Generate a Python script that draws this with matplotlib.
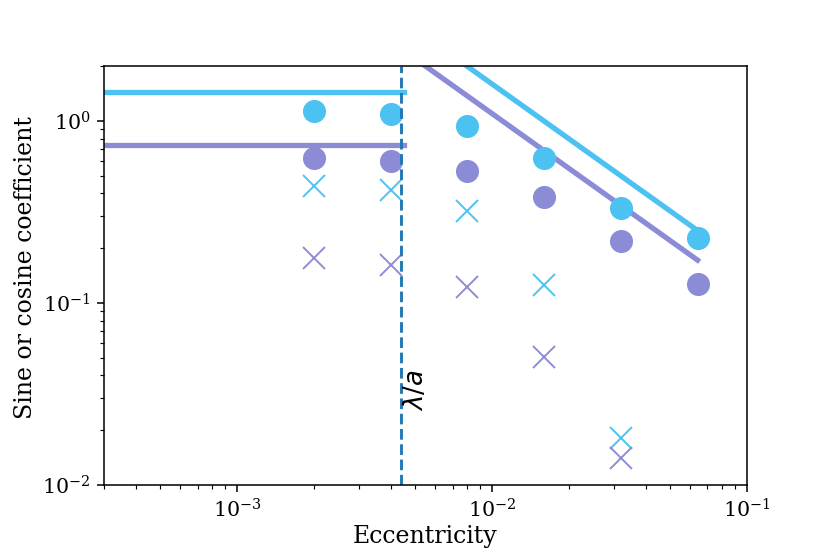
import matplotlib
matplotlib.use("Agg")
import matplotlib.pyplot as plt

plt.rcParams['font.family'] = 'serif'
plt.rcParams['font.serif'] = ['DejaVu Serif']

cyan = "#4bc2f1"
purple = "#8c8cd6"

ecc = [0.002, 0.004, 0.008, 0.016, 0.032, 0.064]
cyan_circles = [1.14, 1.10, 0.94, 0.63, 0.333, 0.228]
purple_circles = [0.63, 0.60, 0.53, 0.38, 0.22, 0.127]
ecc_x = [0.002, 0.004, 0.008, 0.016, 0.032]
cyan_crosses = [0.44, 0.417, 0.32, 0.125, 0.018]
purple_crosses = [0.177, 0.162, 0.123, 0.0507, 0.014]

lam_a = 4.4e-3
flat_x = [1e-4, 4.5e-3]
cyan_flat = [1.44, 1.44]
purple_flat = [0.735, 0.735]
slope_x = [4.4e-3, 0.064]
cyan_slope = [0.016 / 4.4e-3, 0.016 / 0.064]
purple_slope = [0.011 / 4.4e-3, 0.011 / 0.064]

fig = plt.figure(figsize=(6, 4.006), dpi=138.33)
ax = plt.subplot(111)
ax.set_position([0.125, 0.125, 0.775, 0.755])

ax.plot(flat_x, cyan_flat, "-", color=cyan, lw=2.75)
ax.plot(flat_x, purple_flat, "-", color=purple, lw=2.75)
ax.plot(slope_x, cyan_slope, "-", color=cyan, lw=2.75)
ax.plot(slope_x, purple_slope, "-", color=purple, lw=2.75)

ax.plot(ecc, cyan_circles, "o", color=cyan, ms=11, ls="none")
ax.plot(ecc, purple_circles, "o", color=purple, ms=11, ls="none")
ax.plot(ecc_x, cyan_crosses, "x", color=cyan, ms=11, mew=1.0, ls="none")
ax.plot(ecc_x, purple_crosses, "x", color=purple, ms=11, mew=1.0, ls="none")

ax.axvline(lam_a, color="#1f77b4", ls="--", lw=1.5)
ax.text(lam_a * 1.01, 0.033, r"$\lambda/a$", rotation=90, ha="left", va="center",
        fontsize=13.5)

ax.set_xscale("log")
ax.set_yscale("log")
ax.set_xlim(3e-4, 0.1)
ax.set_ylim(0.01, 2)
ax.tick_params(labelsize=10.7)
ax.set_xlabel("Eccentricity", fontsize=12.3, labelpad=2)
ax.set_ylabel("Sine or cosine coefficient", fontsize=12.3)
ax.yaxis.set_label_coords(-0.103, 0.52)

plt.savefig("out.png", dpi=138.33)
